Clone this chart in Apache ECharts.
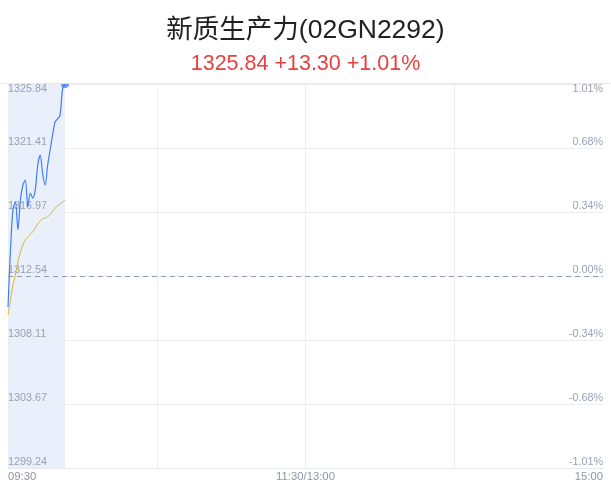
<!DOCTYPE html>
<html>
<head>
<meta charset="utf-8">
<script src="https://cdn.jsdelivr.net/npm/echarts@6/dist/echarts.min.js"></script>
<style>
html,body{margin:0;padding:0;background:#fff;}
#c{width:611px;height:492px;}
</style>
</head>
<body>
<div id="c"></div>
<script>
var titleText = '新质生产力(02GN2292)';
var subText = '1325.84 +13.30 +1.01%';
var prevClose = 1312.54;
var yMin = 1299.24;
var yMax = 1325.84;
var leftTicks = ['1299.24','1303.67','1308.11','1312.54','1316.97','1321.41','1325.84'];
var rightTicks = ['-1.01%','-0.68%','-0.34%','0.00%','0.34%','0.68%','1.01%'];
var xLabels = {0:'09:30', 120:'11:30/13:00', 240:'15:00'};

var priceValues = [1310.39,1314.34,1317.11,1317.67,1315.73,1317.80,1318.84,1319.19,1317.32,1318.29,
                   1317.94,1318.50,1320.23,1320.92,1319.60,1318.84,1320.23,1321.27,1322.31,1323.21,
                   1323.42,1323.69,1325.49,1325.84];
var avgValues   = [1309.84,1310.88,1311.92,1312.61,1313.51,1314.20,1314.69,1315.03,1315.24,1315.45,
                   1315.59,1315.87,1316.15,1316.36,1316.49,1316.56,1316.63,1316.84,1317.04,1317.25,
                   1317.39,1317.53,1317.67,1317.80];

// minute categories: 09:30-11:30, 13:01-15:00
function pad(n){return (n<10?'0':'')+n;}
var times = [];
for (var m = 9*60+30; m <= 11*60+30; m++) times.push(pad(Math.floor(m/60))+':'+pad(m%60));
for (var m2 = 13*60+1; m2 <= 15*60; m2++) times.push(pad(Math.floor(m2/60))+':'+pad(m2%60));

var step = (yMax - yMin) / 6;
var lastIdx = priceValues.length - 1;
var FONT = '"Liberation Sans", "Noto Sans CJK SC", sans-serif';

var chart = echarts.init(document.getElementById('c'));
chart.setOption({
  animation: false,
  title: [{
    text: titleText,
    left: 'center', top: 12,
    textStyle: {fontSize: 26.5, fontWeight: 'normal', color: '#222', fontFamily: FONT}
  },{
    text: subText,
    left: 'center', top: 48,
    textStyle: {fontSize: 21.5, fontWeight: 'normal', color: '#e8403f', fontFamily: FONT}
  }],
  graphic: [{
    type: 'line', shape: {x1: 0, y1: 83.5, x2: 611, y2: 83.5},
    style: {stroke: '#e6e8ee', lineWidth: 1}, z: 0
  }],
  grid: {left: 8, right: 8, top: 84, bottom: 24},
  xAxis: {
    type: 'category',
    data: times,
    boundaryGap: false,
    z: 2,
    axisLine: {show: true, lineStyle: {color: '#e6e8ee'}},
    axisTick: {show: false},
    axisLabel: {
      interval: function (i) { return xLabels[i] !== undefined; },
      formatter: function (v, i) { return xLabels[i] || ''; },
      color: '#8e94a0', fontSize: 11.3, margin: 3,
      alignMinLabel: 'left', alignMaxLabel: 'right'
    },
    splitLine: {show: true, interval: function (i) { return i % 60 === 0 && i < 240; }, lineStyle: {color: '#eceef2'}}
  },
  yAxis: [{
    type: 'value', min: yMin, max: yMax, interval: step,
    z: 2,
    axisLine: {show: false}, axisTick: {show: false},
    axisLabel: {
      inside: true,
      formatter: function (v) { return leftTicks[Math.round((v - yMin) / step)]; },
      color: '#9aa1b0', fontSize: 10.8, verticalAlign: 'bottom', margin: 0,
      verticalAlignMaxLabel: 'top'
    },
    splitLine: {show: true, lineStyle: {color: '#eceef2'}}
  },{
    type: 'value', min: yMin, max: yMax, interval: step, position: 'right',
    z: 2,
    axisLine: {show: false}, axisTick: {show: false},
    axisLabel: {
      inside: true,
      formatter: function (v) { return rightTicks[Math.round((v - yMin) / step)]; },
      color: '#9aa1b0', fontSize: 10.8, verticalAlign: 'bottom', margin: 0,
      verticalAlignMaxLabel: 'top'
    },
    splitLine: {show: false}
  }],
  series: [{
    name: 'bg', type: 'line', data: priceValues,
    showSymbol: false, silent: true,
    lineStyle: {opacity: 0},
    markArea: {
      silent: true,
      itemStyle: {color: '#e9f0fc'},
      data: [[{xAxis: 0}, {xAxis: lastIdx}]]
    },
    markLine: {
      silent: true, symbol: 'none', label: {show: false},
      lineStyle: {color: '#8e99b2', type: [5, 4], width: 1},
      data: [{yAxis: prevClose}]
    },
    z: 1
  },{
    name: 'price', type: 'line', data: priceValues,
    showSymbol: false, smooth: 0.3,
    lineStyle: {color: '#3f7ff0', width: 1.2},
    itemStyle: {color: '#3f7ff0'},
    z: 4
  },{
    name: 'avg', type: 'line', data: avgValues,
    showSymbol: false, smooth: 0.3,
    lineStyle: {color: '#d8b92a', width: 1},
    z: 3
  },{
    name: 'last', type: 'scatter',
    data: [[lastIdx, priceValues[lastIdx]]],
    symbol: 'path://M0,0 A1,1 0 0 0 2,0 Z',
    symbolSize: [8, 4], symbolOffset: [0, 2],
    itemStyle: {color: '#3f7ff0'},
    z: 5
  }]
});
</script>
</body>
</html>
